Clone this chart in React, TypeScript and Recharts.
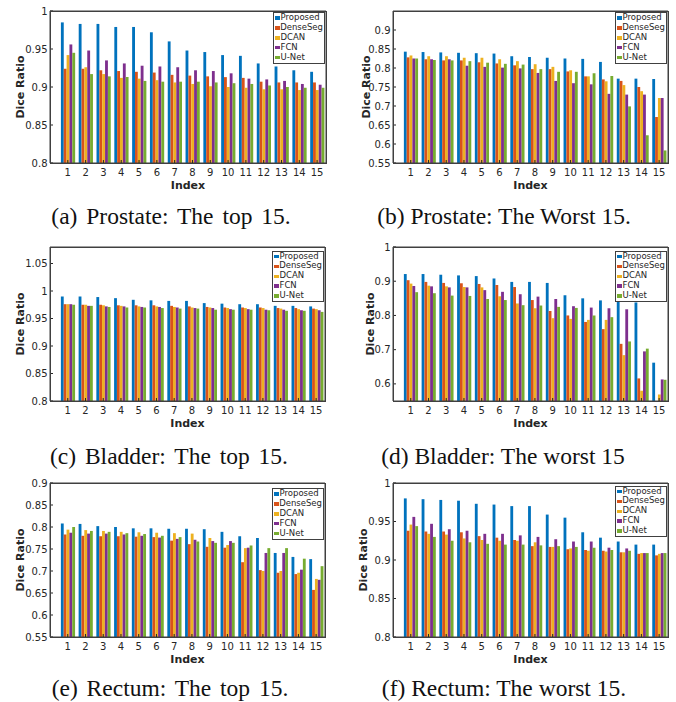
import React from 'react';
import { BarChart, Bar, XAxis, YAxis, Legend, Label } from 'recharts';

const INDEX = ['1', '2', '3', '4', '5', '6', '7', '8', '9', '10', '11', '12', '13', '14', '15'];
const SERIES = ['Proposed', 'DenseSeg', 'DCAN', 'FCN', 'U-Net'];
const COLORS = ['#0072BD', '#D95319', '#EDB120', '#7E2F8E', '#77AC30'];

// (a) Prostate: the top 15
const prostateTopProposed = [0.985, 0.983, 0.983, 0.979, 0.979, 0.972, 0.960, 0.948, 0.946, 0.942, 0.941, 0.931, 0.927, 0.922, 0.920];
const prostateTopDenseSeg = [0.924, 0.924, 0.922, 0.921, 0.920, 0.919, 0.916, 0.915, 0.914, 0.913, 0.912, 0.907, 0.906, 0.906, 0.906];
const prostateTopDCAN = [0.942, 0.926, 0.917, 0.912, 0.911, 0.909, 0.906, 0.904, 0.901, 0.900, 0.899, 0.897, 0.897, 0.896, 0.896];
const prostateTopFCN = [0.956, 0.948, 0.935, 0.931, 0.928, 0.927, 0.926, 0.922, 0.921, 0.918, 0.911, 0.910, 0.908, 0.904, 0.903];
const prostateTopUNet = [0.945, 0.917, 0.914, 0.913, 0.908, 0.907, 0.907, 0.907, 0.906, 0.905, 0.904, 0.902, 0.900, 0.899, 0.899];

// (b) Prostate: the worst 15
const prostateWorstProposed = [0.843, 0.842, 0.841, 0.840, 0.839, 0.838, 0.831, 0.829, 0.827, 0.825, 0.824, 0.816, 0.772, 0.772, 0.771];
const prostateWorstDenseSeg = [0.828, 0.823, 0.820, 0.820, 0.815, 0.812, 0.807, 0.797, 0.797, 0.791, 0.778, 0.770, 0.766, 0.750, 0.671];
const prostateWorstDCAN = [0.833, 0.831, 0.831, 0.827, 0.827, 0.823, 0.818, 0.810, 0.803, 0.794, 0.778, 0.765, 0.755, 0.739, 0.721];
const prostateWorstFCN = [0.825, 0.823, 0.823, 0.806, 0.803, 0.801, 0.799, 0.787, 0.766, 0.760, 0.757, 0.732, 0.730, 0.730, 0.721];
const prostateWorstUNet = [0.825, 0.821, 0.820, 0.818, 0.814, 0.811, 0.809, 0.797, 0.790, 0.790, 0.786, 0.779, 0.699, 0.623, 0.583];

// (c) Bladder: the top 15
const bladderTopProposed = [0.990, 0.990, 0.989, 0.987, 0.984, 0.983, 0.982, 0.982, 0.978, 0.977, 0.976, 0.976, 0.973, 0.973, 0.972];
const bladderTopDenseSeg = [0.976, 0.975, 0.975, 0.974, 0.974, 0.974, 0.973, 0.972, 0.971, 0.970, 0.970, 0.970, 0.969, 0.969, 0.968];
const bladderTopDCAN = [0.976, 0.975, 0.974, 0.973, 0.972, 0.972, 0.971, 0.970, 0.970, 0.969, 0.969, 0.969, 0.968, 0.967, 0.967];
const bladderTopFCN = [0.976, 0.973, 0.972, 0.972, 0.971, 0.971, 0.970, 0.969, 0.969, 0.967, 0.967, 0.966, 0.966, 0.965, 0.965];
const bladderTopUNet = [0.975, 0.973, 0.971, 0.970, 0.970, 0.969, 0.968, 0.968, 0.966, 0.966, 0.966, 0.965, 0.964, 0.964, 0.962];

// (d) Bladder: the worst 15 (DenseSeg #15 sits at the axis floor)
const bladderWorstProposed = [0.921, 0.921, 0.919, 0.917, 0.915, 0.908, 0.898, 0.898, 0.895, 0.859, 0.850, 0.844, 0.840, 0.838, 0.662];
const bladderWorstDenseSeg = [0.903, 0.898, 0.895, 0.894, 0.892, 0.889, 0.883, 0.845, 0.813, 0.800, 0.781, 0.760, 0.717, 0.616, 0.55];
const bladderWorstDCAN = [0.893, 0.887, 0.885, 0.883, 0.882, 0.856, 0.835, 0.821, 0.792, 0.790, 0.787, 0.787, 0.684, 0.580, 0.569];
const bladderWorstFCN = [0.886, 0.885, 0.882, 0.882, 0.874, 0.869, 0.862, 0.855, 0.848, 0.827, 0.823, 0.821, 0.818, 0.695, 0.613];
const bladderWorstUNet = [0.868, 0.865, 0.858, 0.857, 0.848, 0.845, 0.830, 0.829, 0.825, 0.822, 0.800, 0.795, 0.724, 0.703, 0.612];

// (e) Rectum: the top 15
const rectumTopProposed = [0.808, 0.807, 0.802, 0.800, 0.797, 0.797, 0.796, 0.796, 0.795, 0.789, 0.779, 0.775, 0.741, 0.732, 0.727];
const rectumTopDenseSeg = [0.783, 0.780, 0.779, 0.779, 0.778, 0.777, 0.769, 0.761, 0.755, 0.753, 0.720, 0.702, 0.696, 0.693, 0.657];
const rectumTopDCAN = [0.794, 0.793, 0.791, 0.789, 0.788, 0.787, 0.786, 0.785, 0.775, 0.759, 0.752, 0.700, 0.700, 0.696, 0.682];
const rectumTopFCN = [0.787, 0.785, 0.785, 0.783, 0.780, 0.776, 0.773, 0.771, 0.768, 0.768, 0.753, 0.741, 0.741, 0.703, 0.680];
const rectumTopUNet = [0.800, 0.791, 0.789, 0.786, 0.784, 0.780, 0.777, 0.767, 0.764, 0.764, 0.758, 0.752, 0.752, 0.728, 0.711];

// (f) Rectum: the worst 15
const rectumWorstProposed = [0.980, 0.979, 0.978, 0.977, 0.973, 0.972, 0.970, 0.970, 0.959, 0.955, 0.936, 0.929, 0.924, 0.920, 0.920];
const rectumWorstDenseSeg = [0.938, 0.937, 0.937, 0.936, 0.931, 0.929, 0.926, 0.918, 0.917, 0.914, 0.913, 0.912, 0.910, 0.908, 0.906];
const rectumWorstDCAN = [0.946, 0.934, 0.933, 0.928, 0.926, 0.925, 0.925, 0.923, 0.917, 0.915, 0.912, 0.911, 0.910, 0.909, 0.908];
const rectumWorstFCN = [0.956, 0.947, 0.940, 0.938, 0.934, 0.934, 0.932, 0.930, 0.927, 0.924, 0.924, 0.916, 0.915, 0.909, 0.909];
const rectumWorstUNet = [0.944, 0.930, 0.925, 0.923, 0.921, 0.920, 0.920, 0.919, 0.918, 0.917, 0.916, 0.913, 0.912, 0.909, 0.909];

const TICKS_080_100 = [0.8, 0.85, 0.9, 0.95, 1];
const TICKS_055_090 = [0.55, 0.6, 0.65, 0.7, 0.75, 0.8, 0.85, 0.9];
const TICKS_080_105 = [0.8, 0.85, 0.9, 0.95, 1, 1.05];
const TICKS_060_100 = [0.6, 0.7, 0.8, 0.9, 1];

const FONT = '"DejaVu Sans", sans-serif';
const INK = '#262626';
const BOX = '#404040';

type PanelDef = {
  caption: string;
  values: number[][];
  domain: [number, number];
  ticks: number[];
  col: number;
  L: number; R: number; T: number; B: number;
  diceX: number;
  capX: number; capBase: number; wordGap: number;
  legendDy: number;
};

// plot boxes are on whole pixels so the frame lines stay crisp
const PANELS: PanelDef[] = [
  { caption: '(a) Prostate: The top 15.', values: [prostateTopProposed, prostateTopDenseSeg, prostateTopDCAN, prostateTopFCN, prostateTopUNet],
    domain: [0.8, 1], ticks: TICKS_080_100, col: 0, L: 50, R: 326, T: 11, B: 163, diceX: 20, capX: 171, capBase: 224, wordGap: 3, legendDy: 1 },
  { caption: '(b) Prostate: The Worst 15.', values: [prostateWorstProposed, prostateWorstDenseSeg, prostateWorstDCAN, prostateWorstFCN, prostateWorstUNet],
    domain: [0.55, 0.95], ticks: TICKS_055_090, col: 1, L: 393, R: 668, T: 11, B: 163, diceX: 366.3, capX: 504, capBase: 224, wordGap: 0, legendDy: 1 },
  { caption: '(c) Bladder: The top 15.', values: [bladderTopProposed, bladderTopDenseSeg, bladderTopDCAN, bladderTopFCN, bladderTopUNet],
    domain: [0.8, 1.08], ticks: TICKS_080_105, col: 0, L: 50, R: 325, T: 247, B: 401, diceX: 20, capX: 169, capBase: 464, wordGap: 3, legendDy: 3.5 },
  { caption: '(d) Bladder: The worst 15', values: [bladderWorstProposed, bladderWorstDenseSeg, bladderWorstDCAN, bladderWorstFCN, bladderWorstUNet],
    domain: [0.55, 1], ticks: TICKS_060_100, col: 1, L: 393, R: 668, T: 247, B: 401, diceX: 369.7, capX: 503, capBase: 464, wordGap: 0, legendDy: 3.5 },
  { caption: '(e) Rectum: The top 15.', values: [rectumTopProposed, rectumTopDenseSeg, rectumTopDCAN, rectumTopFCN, rectumTopUNet],
    domain: [0.55, 0.9], ticks: TICKS_055_090, col: 0, L: 50, R: 325, T: 483, B: 637, diceX: 20, capX: 170, capBase: 696, wordGap: 3, legendDy: 5 },
  { caption: '(f) Rectum: The worst 15.', values: [rectumWorstProposed, rectumWorstDenseSeg, rectumWorstDCAN, rectumWorstFCN, rectumWorstUNet],
    domain: [0.8, 1], ticks: TICKS_080_100, col: 1, L: 393, R: 668, T: 483, B: 637, diceX: 363, capX: 504, capBase: 696, wordGap: 0, legendDy: 2.5 },
];

const LegendBox = () => (
  <div style={{ border: `1px solid ${BOX}`, background: '#fff', fontFamily: FONT, fontSize: 8.5, color: INK, lineHeight: '9.9px', padding: '0 1px', boxSizing: 'border-box', width: 52 }}>
    {SERIES.map((s, k) => (
      <div key={s} style={{ display: 'flex', alignItems: 'center', whiteSpace: 'nowrap' }}>
        <span style={{ display: 'inline-block', width: 5, height: 3.5, background: COLORS[k], marginRight: 0.5 }} />
        {s}
      </div>
    ))}
  </div>
);

const Panel = ({ p }: { p: PanelDef }) => {
  const cx = p.col === 0 ? 0 : 338;
  const cy = p.T - 10;
  const W = 338;
  const H = p.B - cy + 28;
  const band = (p.R - p.L) / 15.5;
  const data = INDEX.map((idx, i) => {
    const row: any = { idx };
    SERIES.forEach((s, k) => { row[s] = p.values[k][i]; });
    return row;
  });
  const tickStyle = { fontSize: 10, fill: INK, fontFamily: FONT };
  const pad = { left: band / 2, right: 0 };

  return (
    <div style={{ position: 'absolute', left: cx, top: cy, width: W, height: H }}>
      <BarChart
        width={W}
        height={H}
        data={data}
        margin={{ top: 9, right: cx + W - p.R - 1, left: 0, bottom: 3 }}
        barSize={(band * 0.8) / 5}
        barGap={0}
      >
        <XAxis dataKey="idx" height={25} padding={pad} tickSize={-3} tickMargin={8.5} interval={0}
          tick={tickStyle} axisLine={{ stroke: BOX }} tickLine={{ stroke: INK }}>
          <Label value="Index" position="insideBottom" offset={-0.5}
            style={{ fontSize: 11, fontWeight: 'bold', fill: INK, fontFamily: FONT }} />
        </XAxis>
        <XAxis xAxisId="top" dataKey="idx" orientation="top" height={1} tick={false} tickSize={-3}
          padding={pad} interval={0} axisLine={{ stroke: BOX }} tickLine={{ stroke: INK }} />
        <YAxis type="number" domain={p.domain} ticks={p.ticks} allowDataOverflow width={p.L - cx}
          tickSize={-3} tickMargin={5.5} tick={tickStyle} axisLine={{ stroke: BOX }} tickLine={{ stroke: INK }}>
          <Label value="Dice Ratio" angle={-90} position="insideLeft" offset={p.diceX - cx}
            style={{ textAnchor: 'middle', fontSize: 11, fontWeight: 'bold', fill: INK, fontFamily: FONT }} />
        </YAxis>
        <YAxis yAxisId="right" orientation="right" type="number" domain={p.domain} ticks={p.ticks} allowDataOverflow
          width={1} tick={false} tickSize={-3} axisLine={{ stroke: BOX }} tickLine={{ stroke: INK }} />
        <Legend
          layout="vertical"
          align="center"
          verticalAlign="middle"
          content={() => <LegendBox />}
          wrapperStyle={{ position: 'absolute', left: p.R - cx - 53, top: p.T - cy + p.legendDy, width: 52, height: 'auto', zIndex: 2 }}
        />
        {SERIES.map((s, k) => (
          <Bar key={s} dataKey={s} name={s} fill={COLORS[k]} isAnimationActive={false} />
        ))}
      </BarChart>
    </div>
  );
};

export default function App() {
  return (
    <div style={{ position: 'absolute', left: 0, top: 0, width: 676, height: 702, background: '#fff', overflow: 'hidden' }}>
      {PANELS.map((p) => (
        <Panel key={p.caption} p={p} />
      ))}
      {/* MATLAB-style axes boxes, drawn above the charts */}
      <svg width={676} height={702} style={{ position: 'absolute', left: 0, top: 0, pointerEvents: 'none', zIndex: 1 }}>
        {PANELS.map((p) => (
          <rect key={p.caption + '-box'} x={p.L + 0.5} y={p.T + 0.5} width={p.R - p.L} height={p.B - p.T}
            fill="none" stroke={BOX} strokeWidth={1} shapeRendering="crispEdges" />
        ))}
      </svg>
      {PANELS.map((p) => (
        <div
          key={p.caption + '-cap'}
          style={{
            position: 'absolute',
            left: p.capX - 160,
            width: 320,
            top: p.capBase - 19.3,
            textAlign: 'center',
            fontFamily: '"Liberation Serif", "Times New Roman", serif',
            fontSize: 23.5,
            lineHeight: '23px',
            wordSpacing: p.wordGap,
            color: '#111',
            whiteSpace: 'nowrap',
          }}
        >
          {p.caption}
        </div>
      ))}
    </div>
  );
}
